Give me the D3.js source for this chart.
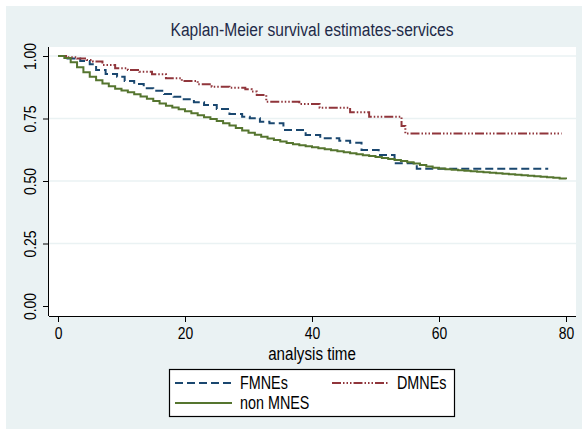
<!DOCTYPE html>
<html>
<head>
<meta charset="utf-8">
<script src="https://cdn.jsdelivr.net/npm/d3@7"></script>
<style>
  body { margin: 0; background: #fff; }
  text { font-family: "Liberation Sans", Arial, sans-serif; }
</style>
</head>
<body>
<div id="chart"></div>
<script>
// survival estimates (time, survivor value after the step)
var fmnesTime = [0, 1.5, 3.5, 5, 6, 7.5, 9.3, 10.5, 12, 13.5, 15, 16.7, 18.2, 19.8, 21.4, 23, 25, 27, 29, 30.2, 31.8, 33.3, 35.5, 39, 41.3, 44.3, 46, 47.8, 50.5, 53, 56.5, 77.2];
var fmnesSurv = [1, 0.99, 0.98, 0.967, 0.944, 0.928, 0.917, 0.9, 0.888, 0.871, 0.861, 0.848, 0.837, 0.827, 0.815, 0.804, 0.788, 0.768, 0.757, 0.751, 0.737, 0.731, 0.704, 0.684, 0.671, 0.661, 0.653, 0.624, 0.604, 0.571, 0.549, 0.549];

var dmnesTime = [0, 1.5, 3, 4.5, 5.5, 7, 9, 11, 12.8, 14.8, 17, 19.5, 22, 24.2, 27, 29.5, 30.5, 31.3, 32.8, 38, 41.2, 46, 49, 54.1, 54.7, 79.3];
var dmnesSurv = [1, 0.995, 0.99, 0.984, 0.978, 0.964, 0.951, 0.944, 0.937, 0.927, 0.911, 0.9, 0.887, 0.877, 0.873, 0.867, 0.858, 0.844, 0.817, 0.808, 0.793, 0.775, 0.757, 0.72, 0.69, 0.69];

var nonTime = [0, 1, 2, 3, 4, 5, 6, 7, 8, 9, 10, 11, 12, 13, 14, 15, 16, 17, 18, 19, 20, 21, 22, 23, 24, 25, 26, 27, 28, 29, 30, 31, 32, 33, 34, 35, 36, 37, 38, 39, 40, 41, 42, 43, 44, 45, 46, 47, 48, 49, 50, 51, 52, 53, 54, 55, 56, 57, 58, 59, 60, 61, 62, 63, 64, 65, 66, 67, 68, 69, 70, 71, 72, 73, 74, 75, 76, 77, 78, 79, 80];
var nonSurv = [1, 0.992, 0.975, 0.955, 0.935, 0.917, 0.903, 0.89, 0.879, 0.869, 0.862, 0.855, 0.847, 0.838, 0.829, 0.82, 0.81, 0.801, 0.794, 0.787, 0.779, 0.771, 0.763, 0.755, 0.748, 0.74, 0.731, 0.722, 0.712, 0.702, 0.693, 0.685, 0.677, 0.67, 0.664, 0.658, 0.652, 0.647, 0.643, 0.639, 0.635, 0.631, 0.627, 0.623, 0.619, 0.615, 0.611, 0.607, 0.603, 0.6, 0.596, 0.592, 0.588, 0.584, 0.58, 0.575, 0.57, 0.564, 0.558, 0.553, 0.55, 0.547, 0.545, 0.543, 0.541, 0.539, 0.537, 0.535, 0.533, 0.531, 0.529, 0.527, 0.525, 0.523, 0.521, 0.519, 0.517, 0.515, 0.513, 0.51, 0.507];

var xTicks = [0, 20, 40, 60, 80];
var yTicks = [0, 0.25, 0.5, 0.75, 1];

var width = 582,
    height = 429,
    narrow = 0.82;   // squeeze Liberation Sans to look like Helvetica Narrow

var svg = d3.select("#chart")
    .append("svg")
    .attr("width", width)
    .attr("height", height);

function narrowText(g, x, y, size, anchor, str) {
    return g.append("text")
        .attr("transform", "translate(" + x + "," + y + ") scale(" + narrow + ",1)")
        .attr("text-anchor", anchor)
        .attr("font-size", size)
        .text(str);
}

// outer graph region
svg.append("rect")
    .attr("x", 6).attr("y", 6)
    .attr("width", width - 6).attr("height", height - 6)
    .attr("fill", "#eaf2f3");

var plot = { left: 49, top: 47, right: 576, bottom: 316 };

svg.append("rect")
    .attr("x", plot.left).attr("y", plot.top)
    .attr("width", plot.right - plot.left).attr("height", plot.bottom - plot.top)
    .attr("fill", "#fff");

var x = d3.scaleLinear().domain([0, 80]).range([58, 566]);
var y = d3.scaleLinear().domain([0, 1]).range([306, 56]);

// grid lines
svg.selectAll(".grid")
    .data(yTicks.filter(function (d) { return d > 0; }))
    .enter()
    .append("line")
    .attr("x1", plot.left).attr("x2", plot.right)
    .attr("y1", function (d) { return y(d); })
    .attr("y2", function (d) { return y(d); })
    .attr("stroke", "#eaf2f3")
    .attr("stroke-width", 1.5);

narrowText(svg, 312, 36, 19, "middle", "Kaplan-Meier survival estimates-services")
    .attr("fill", "#1e2a48");

// axes
var xAxis = d3.axisBottom(x).tickValues(xTicks).tickSize(6).tickPadding(5);
var gx = svg.append("g")
    .attr("transform", "translate(0," + plot.bottom + ")")
    .call(xAxis);
gx.select(".domain").attr("d", "M" + plot.left + ",0.5H" + plot.right);
gx.selectAll("text")
    .attr("font-size", 17).attr("fill", "#000")
    .attr("font-family", null)
    .attr("transform", "scale(" + narrow + ",1)");

var yAxis = d3.axisLeft(y).tickValues(yTicks).tickSize(6)
    .tickFormat(d3.format(".2f"));
var gy = svg.append("g")
    .attr("transform", "translate(" + plot.left + ",0)")
    .call(yAxis);
gy.select(".domain").attr("d", "M-0.5," + plot.top + "V" + plot.bottom);
gy.selectAll("text")
    .attr("font-size", 17).attr("fill", "#000")
    .attr("font-family", null)
    .attr("x", null).attr("dy", null)
    .attr("text-anchor", "middle")
    .attr("transform", "translate(-13,0) rotate(-90) scale(" + narrow + ",1)");

svg.selectAll(".domain, .tick line").attr("stroke", "#000");

narrowText(svg, 312, 360, 18.5, "middle", "analysis time");

// survival curves
var line = d3.line()
    .x(function (d) { return x(d[0]); })
    .y(function (d) { return y(d[1]); })
    .curve(d3.curveStepAfter);

var series = [
    { name: "FMNEs", time: fmnesTime, surv: fmnesSurv, color: "#1a476f", dash: "8,4" },
    { name: "DMNEs", time: dmnesTime, surv: dmnesSurv, color: "#90353b", dash: "9,2,1.5,2,1.5,2,1.5,2" },
    { name: "non MNES", time: nonTime, surv: nonSurv, color: "#55752f", dash: null }
];

series.forEach(function (s) {
    var pts = s.time.map(function (t, i) { return [t, s.surv[i]]; });
    svg.append("path")
        .attr("d", line(pts))
        .attr("fill", "none")
        .attr("stroke", s.color)
        .attr("stroke-width", 2)
        .attr("stroke-dasharray", s.dash);
});

// legend
var legend = svg.append("g");
legend.append("rect")
    .attr("x", 169.5).attr("y", 369.5)
    .attr("width", 285).attr("height", 47)
    .attr("fill", "#fff")
    .attr("stroke", "#000")
    .attr("stroke-width", 1.2);

var legendPos = [
    { x: 175, y: 383, ty: 389 },
    { x: 332, y: 383, ty: 389 },
    { x: 175, y: 403, ty: 409 }
];

series.forEach(function (s, i) {
    var p = legendPos[i];
    legend.append("line")
        .attr("x1", p.x).attr("x2", p.x + 57)
        .attr("y1", p.y).attr("y2", p.y)
        .attr("stroke", s.color)
        .attr("stroke-width", 2)
        .attr("stroke-dasharray", s.dash);
    narrowText(legend, p.x + 65, p.ty, 17.5, "start", s.name);
});
</script>
</body>
</html>
